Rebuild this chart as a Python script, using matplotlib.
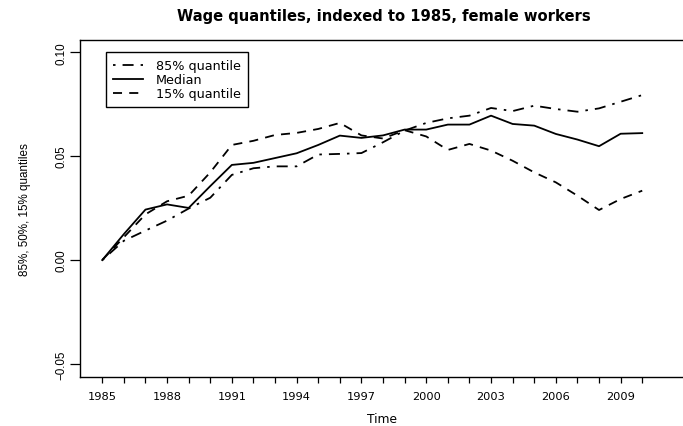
import matplotlib
matplotlib.use("Agg")
import matplotlib.pyplot as plt
import numpy as np

# wage quantiles indexed to 1985, female workers
years = list(range(1985, 2011))
q85 = [0.0, 0.0093, 0.0142, 0.0190, 0.0248, 0.0300, 0.0410, 0.0442, 0.0451, 0.0451,
       0.0508, 0.0511, 0.0515, 0.0567, 0.0623, 0.0660, 0.0682, 0.0695, 0.0732, 0.0717,
       0.0743, 0.0727, 0.0714, 0.0730, 0.0762, 0.0794]
median = [0.0, 0.0125, 0.0243, 0.0268, 0.0251, 0.0356, 0.0458, 0.0468, 0.0491, 0.0514,
          0.0554, 0.0599, 0.0588, 0.0600, 0.0628, 0.0628, 0.0652, 0.0652, 0.0695, 0.0655,
          0.0647, 0.0607, 0.0580, 0.0548, 0.0608, 0.0611]
q15 = [0.0, 0.0110, 0.0220, 0.0283, 0.0310, 0.0422, 0.0554, 0.0574, 0.0602, 0.0612,
       0.0631, 0.0660, 0.0600, 0.0585, 0.0625, 0.0595, 0.0530, 0.0559, 0.0527, 0.0478,
       0.0422, 0.0374, 0.0310, 0.0241, 0.0294, 0.0334]

labelled_years = years[::3]
y_ticks = [-0.05, 0.00, 0.05, 0.10]

W, H = 683, 427
fig = plt.figure(figsize=(W / 100, H / 100), dpi=100)
# plot box: left 80px, top 41px, bottom 377.7px, right edge just past the canvas
ax = fig.add_axes([80 / W, (H - 377.7) / H, (685 - 80) / W, (377.7 - 41) / H])

lw = 1.3
ax.plot(years, q85, color="black", lw=lw, ls=(0, (1.4, 3.9, 6.1, 3.9)),
        label="85% quantile")
ax.plot(years, median, color="black", lw=lw, ls="-", label="Median")
ax.plot(years, q15, color="black", lw=lw, ls=(0, (5, 4)), label="15% quantile")

ax.set_xlim(1983.97, 2011.98)
ax.set_ylim(-0.0561, 0.1059)

ax.set_xticks(years)
ax.set_xticklabels([str(y) if y in labelled_years else "" for y in years],
                   fontsize=8.2, family="DejaVu Sans")
ax.set_yticks(y_ticks)
ax.set_yticklabels([f"{v:.2f}".replace("-", "\u2212") for v in y_ticks],
                   fontsize=8.4, family="Liberation Sans", rotation=90, va="center")
ax.tick_params(axis="x", direction="out", length=4.1, width=0.9, pad=6,
               color="black")
ax.tick_params(axis="y", direction="out", length=7.2, width=0.9, pad=2,
               color="black")
for sp in ax.spines.values():
    sp.set_color("black")
    sp.set_linewidth(1.0)

leg = ax.legend(loc="upper left", bbox_to_anchor=((106 - 80) / 605, 1 - (53.3 - 41) / 336.7),
                borderaxespad=0, prop={"family": "DejaVu Sans", "size": 9.2},
                handlelength=2.35, handletextpad=1.0, labelspacing=0.07,
                borderpad=0.55, fancybox=False, framealpha=1, edgecolor="black")
leg.get_frame().set_linewidth(1.0)

fig.text(384 / W, 1 - 20.7 / H, "Wage quantiles, indexed to 1985, female workers",
         ha="center", va="baseline", fontsize=10.6, fontweight="bold",
         family="DejaVu Sans")
fig.text(382 / W, 1 - 423 / H, "Time", ha="center", va="baseline",
         fontsize=8.8, family="DejaVu Sans")
fig.text(25 / W, 1 - 209.5 / H, "85%, 50%, 15% quantiles", ha="center", va="center",
         rotation=90, fontsize=8.4, family="Liberation Sans")

fig.savefig("out.png", dpi=100)
